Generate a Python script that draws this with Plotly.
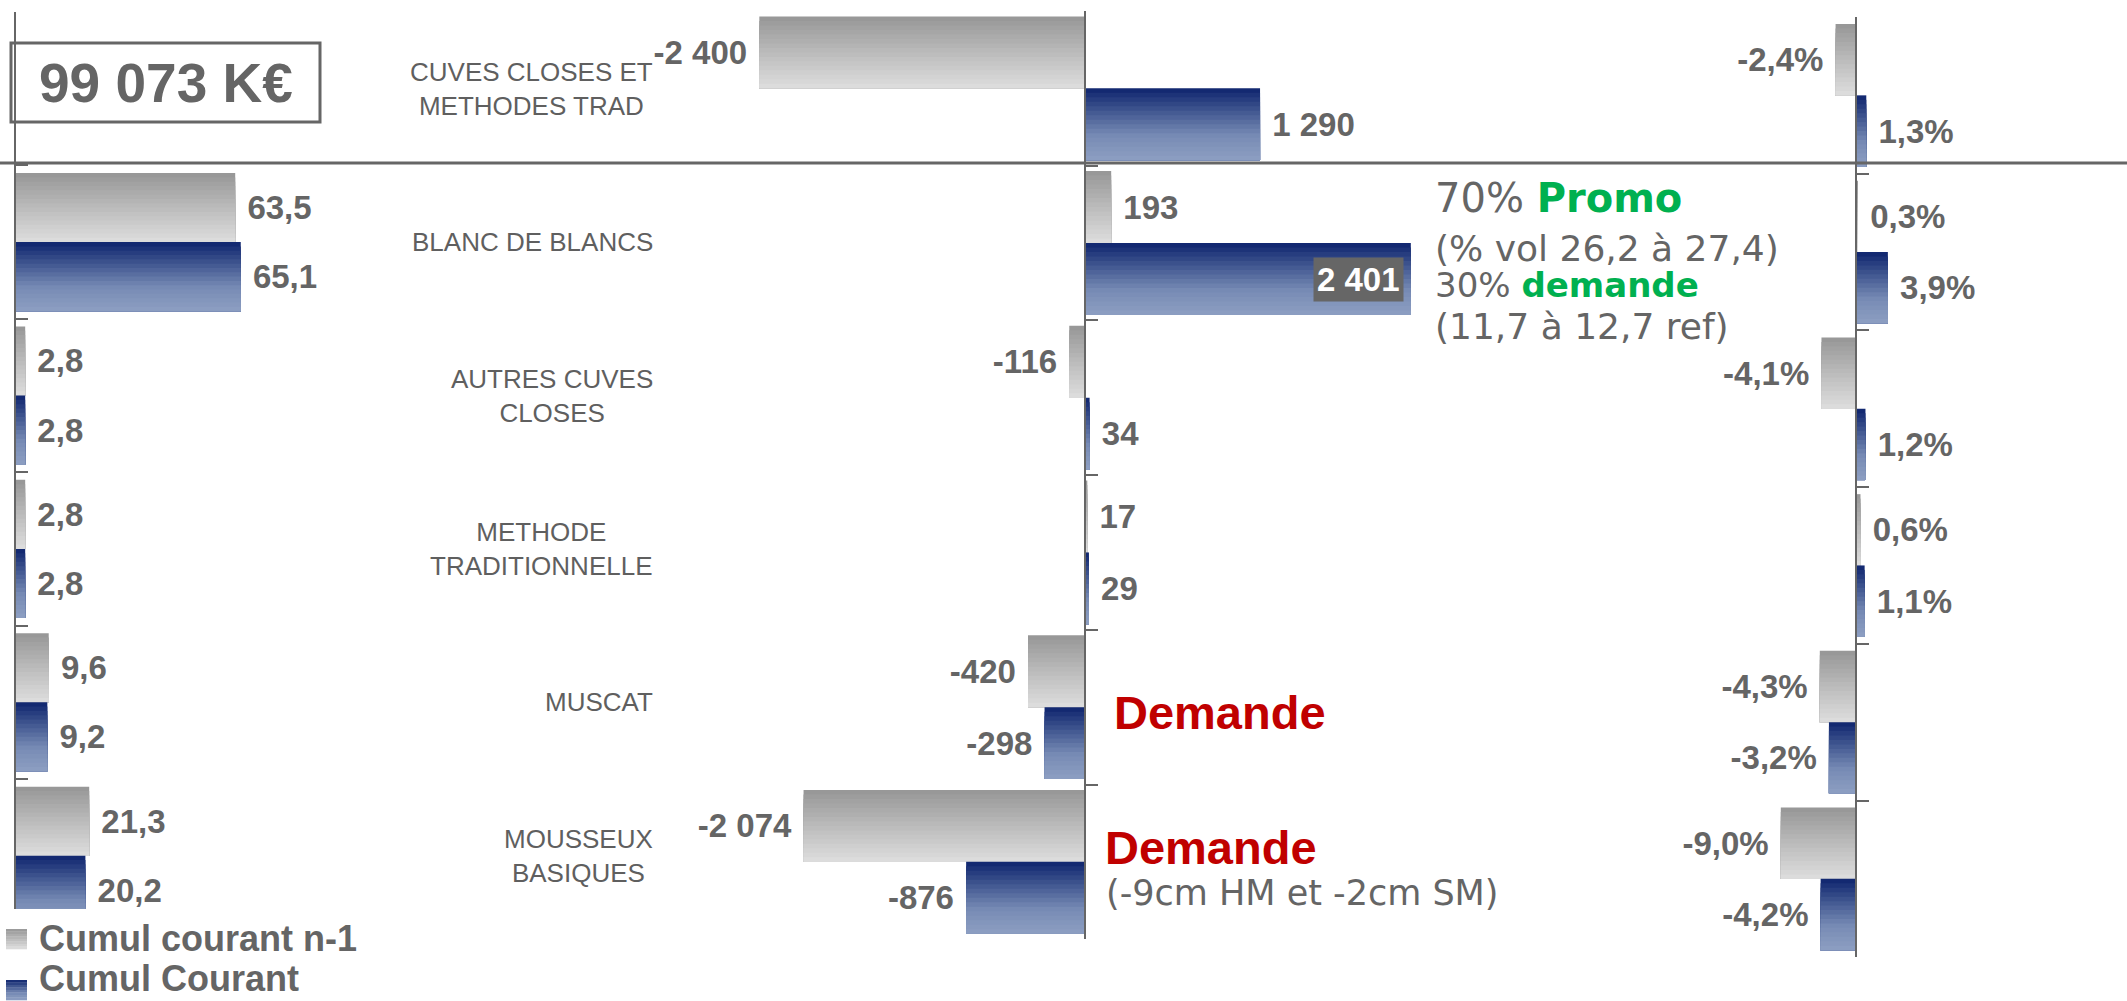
import plotly.graph_objects as go

W, H = 2127, 1001

# ---------------- data ----------------
categories = ["CUVES CLOSES ET<br>METHODES TRAD", "BLANC DE BLANCS", "AUTRES CUVES<br>CLOSES",
              "METHODE<br>TRADITIONNELLE", "MUSCAT", "MOUSSEUX<br>BASIQUES"]
series_names = ["Cumul courant n-1", "Cumul Courant"]

share_prev = [None, 63.5, 2.8, 2.8, 9.6, 21.3]
share_curr = [None, 65.1, 2.8, 2.8, 9.2, 20.2]

evol_val_prev = [-2400, 193, -116, 17, -420, -2074]
evol_val_curr = [1290, 2401, 34, 29, -298, -876]

evol_pct_prev = [-2.4, 0.3, -4.1, 0.6, -4.3, -9.0]
evol_pct_curr = [1.3, 3.9, 1.2, 1.1, -3.2, -4.2]

total_label = "99 073 K€"

# ---------------- helpers ----------------
GREY_TXT = "#656565"
AXIS_COL = "#666666"
ARIAL = "Liberation Sans, Arial, sans-serif"
VERD = "DejaVu Sans, Verdana, sans-serif"
NB = "\u00a0"
LABEL_SIZE = 33


def px_x(px):
    return px / W


def px_y(py):
    return 1 - py / H


def fr_num(v, dec, suffix=""):
    if v is None:
        return ""
    s = f"{abs(v):,.{dec}f}".replace(",", " ").replace(".", ",")
    return ("-" if v < 0 else "") + s + suffix


def bar_label(v, dec, suffix=""):
    t = fr_num(v, dec, suffix)
    if not t:
        return ""
    return (NB + t) if v >= 0 else (t + NB)


def lerp_stops(stops, t):
    for (t0, c0), (t1, c1) in zip(stops[:-1], stops[1:]):
        if t0 <= t <= t1:
            f = (t - t0) / (t1 - t0)
            return "rgb(%d,%d,%d)" % tuple(round(a + (b - a) * f) for a, b in zip(c0, c1))
    return "rgb(%d,%d,%d)" % stops[-1][1]


GREY_STOPS = [(0, (150, 150, 150)), (0.5, (187, 187, 187)), (1, (222, 222, 222))]
BLUE_STOPS = [(0, (14, 36, 110)), (0.3, (62, 84, 142)), (0.65, (118, 138, 180)), (1, (141, 159, 194))]
NSTRIP = 16

panels = [
    dict(prev=share_prev, curr=share_curr, dec=1, suf="",
         x0=15.5, x1=500, zero=15.5, scale=3.46, yt=12, yb=909, band=153.4, bw=0.45),
    dict(prev=evol_val_prev, curr=evol_val_curr, dec=0, suf="",
         x0=560, x1=1700, zero=1085, scale=0.1357, yt=11, yb=939, band=154.7, bw=0.465),
    dict(prev=evol_pct_prev, curr=evol_pct_curr, dec=1, suf="%",
         x0=1700, x1=2127, zero=1855.5, scale=8.3, yt=17, yb=957, band=156.7, bw=0.455),
]

pos = list(range(len(categories)))
fig = go.Figure()
layout_axes = {}
annotations = []
shapes = []

for k, p in enumerate(panels):
    xa = "x" if k == 0 else f"x{k + 1}"
    ya = "y" if k == 0 else f"y{k + 1}"
    xkey = "xaxis" if k == 0 else f"xaxis{k + 1}"
    ykey = "yaxis" if k == 0 else f"yaxis{k + 1}"
    bw = p["bw"]
    step = bw / NSTRIP

    inside_idx = None
    if k == 1:
        inside_idx = p["curr"].index(max(p["curr"]))

    for s, (vals, stops, start) in enumerate([(p["prev"], GREY_STOPS, -bw), (p["curr"], BLUE_STOPS, 0.0)]):
        for i in range(NSTRIP):
            col = lerp_stops(stops, (i + 0.5) / NSTRIP)
            fig.add_trace(go.Bar(
                x=vals, y=pos, orientation="h", xaxis=xa, yaxis=ya,
                offset=start + i * step, width=bw - i * step,
                marker=dict(color=col, line=dict(width=0)),
                hoverinfo="skip", showlegend=False))
        labels = [bar_label(v, p["dec"], p["suf"]) for v in vals]
        if s == 1 and inside_idx is not None:
            labels[inside_idx] = ""
        fig.add_trace(go.Bar(
            x=vals, y=pos, orientation="h", xaxis=xa, yaxis=ya,
            offset=start, width=bw,
            marker=dict(color="rgba(0,0,0,0)", line=dict(width=0)),
            text=labels, textposition="outside", textangle=0,
            constraintext="none", cliponaxis=False,
            outsidetextfont=dict(family=ARIAL, size=LABEL_SIZE, color=GREY_TXT, weight="bold"),
            hoverinfo="skip", showlegend=False))

    if inside_idx is not None:
        annotations.append(dict(
            x=p["curr"][inside_idx], y=inside_idx + bw / 2, xref=xa, yref=ya,
            text=fr_num(p["curr"][inside_idx], p["dec"], p["suf"]),
            xanchor="right", yanchor="middle", xshift=-7, showarrow=False,
            bgcolor="#666666", borderpad=3,
            font=dict(family=ARIAL, size=LABEL_SIZE, color="white", weight="bold")))

    yb_range = -0.5 + (p["yb"] - p["yt"]) / p["band"]
    layout_axes[xkey] = dict(
        domain=[px_x(p["x0"]), px_x(p["x1"])],
        range=[-(p["zero"] - p["x0"]) / p["scale"], (p["x1"] - p["zero"]) / p["scale"]],
        visible=False, anchor=ya, fixedrange=True)
    yax = dict(
        domain=[px_y(p["yb"]), px_y(p["yt"])],
        range=[yb_range, -0.5],
        showgrid=False, zeroline=False, showticklabels=False,
        showline=True, linecolor=AXIS_COL, linewidth=2,
        ticks="inside", ticklen=12, tickwidth=2, tickcolor=AXIS_COL,
        tickmode="array", tickvals=[i - 0.5 for i in range(len(categories) + 1)],
        fixedrange=True)
    if k == 0:
        yax["anchor"] = xa
    else:
        yax["anchor"] = "free"
        yax["position"] = px_x(p["zero"])
    layout_axes[ykey] = yax

# category labels
for i, c in enumerate(categories):
    annotations.append(dict(
        x=px_x(655), y=i, xref="paper", yref="y", text=c, showarrow=False,
        xanchor="right", yanchor="middle", align="center",
        font=dict(family=ARIAL, size=26, color="#5f5f5f")))

# divider line
shapes.append(dict(type="line", xref="paper", yref="paper", x0=0, x1=1,
                   y0=px_y(163), y1=px_y(163), line=dict(color=AXIS_COL, width=3)))

# total box
shapes.append(dict(type="rect", xref="paper", yref="paper",
                   x0=px_x(11), x1=px_x(320), y0=px_y(122), y1=px_y(43),
                   line=dict(color=AXIS_COL, width=3), fillcolor="rgba(0,0,0,0)"))
annotations.append(dict(x=px_x(166), y=px_y(83), xref="paper", yref="paper",
                        text=total_label, showarrow=False, xanchor="center", yanchor="middle",
                        font=dict(family=ARIAL, size=55, color=GREY_TXT, weight="bold")))

# commentary annotations
GREEN = "#00B050"
RED = "#C00000"
comment_lines = [
    (1433, 198, f"70% <span style='color:{GREEN}'><b>Promo</b></span>", VERD, 40, GREY_TXT),
    (1433, 248, "(% vol 26,2 à 27,4)", VERD, 36, GREY_TXT),
    (1433, 285, f"30% <span style='color:{GREEN}'><b>demande</b></span>", VERD, 34, GREY_TXT),
    (1433, 327, "(11,7 à 12,7 ref)", VERD, 36, GREY_TXT),
    (1112, 712, "<b>Demande</b>", ARIAL, 47, RED),
    (1103, 847, "<b>Demande</b>", ARIAL, 47, RED),
    (1104, 893, "(-9cm HM et -2cm SM)", VERD, 35, GREY_TXT),
]
for x, y, t, fam, sz, col in comment_lines:
    annotations.append(dict(x=px_x(x), y=px_y(y), xref="paper", yref="paper", text=t,
                            showarrow=False, xanchor="left", yanchor="middle",
                            font=dict(family=fam, size=sz, color=col)))

# custom legend
legend_rows = [(series_names[0], GREY_STOPS, 929, 949, 938, "middle"),
               (series_names[1], BLUE_STOPS, 980, 1000, 1001, "bottom")]
for name, stops, top, bot, cy, anchor in legend_rows:
    n = 8
    h = (bot - top) / n
    for i in range(n):
        shapes.append(dict(type="rect", xref="paper", yref="paper",
                           x0=px_x(6), x1=px_x(27), y0=px_y(top + (i + 1) * h + 0.3), y1=px_y(top + i * h),
                           line=dict(width=0), fillcolor=lerp_stops(stops, (i + 0.5) / n)))
    annotations.append(dict(x=px_x(37), y=px_y(cy), xref="paper", yref="paper", text=name,
                            showarrow=False, xanchor="left", yanchor=anchor,
                            font=dict(family=ARIAL, size=36, color=GREY_TXT, weight="bold")))

fig.update_layout(
    width=W, height=H, margin=dict(l=0, r=0, t=0, b=0),
    paper_bgcolor="white", plot_bgcolor="rgba(0,0,0,0)",
    barmode="overlay", showlegend=False,
    annotations=annotations, shapes=shapes,
    **layout_axes)

fig.write_html("out.html")
